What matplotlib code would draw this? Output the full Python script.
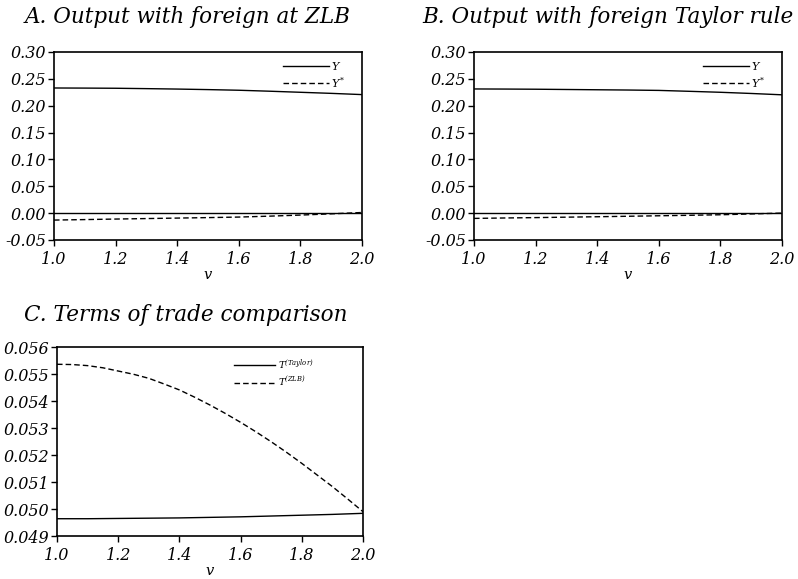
import numpy as np
import matplotlib
matplotlib.use("Agg")
import matplotlib.pyplot as plt

plt.rcParams["font.family"] = "DejaVu Serif"
plt.rcParams["font.style"] = "italic"
plt.rcParams["mathtext.fontset"] = "dejavuserif"

# grid of v values
v = [1.0, 1.1, 1.2, 1.3, 1.4, 1.5, 1.6, 1.7, 1.8, 1.9, 2.0]
v_fine = [1.0, 1.05, 1.1, 1.15, 1.2, 1.25, 1.3, 1.35, 1.4, 1.45, 1.5,
          1.55, 1.6, 1.65, 1.7, 1.75, 1.8, 1.85, 1.9, 1.95, 2.0]

# panel A: foreign at ZLB
y_zlb = [0.2330, 0.2328, 0.2325, 0.2318, 0.2310, 0.2300, 0.2288, 0.2270, 0.2250, 0.2230, 0.2207]
ystar_zlb = [-0.0129, -0.0120, -0.0110, -0.0101, -0.0092, -0.0083, -0.0073, -0.0056, -0.0036, -0.0013, 0.0012]

# panel B: foreign Taylor rule
y_tay = [0.2312, 0.2310, 0.2307, 0.2302, 0.2297, 0.2292, 0.2285, 0.2268, 0.2250, 0.2228, 0.2203]
ystar_tay = [-0.0098, -0.0090, -0.0083, -0.0075, -0.0067, -0.0058, -0.0049, -0.0040, -0.0030, -0.0015, 0.0001]

# panel C: terms of trade
tot_taylor = [0.04964, 0.04964, 0.04965, 0.04966, 0.04967, 0.04969, 0.04971, 0.04974, 0.04977, 0.04980, 0.04984]
tot_zlb = [0.05536, 0.05535, 0.05531, 0.05523, 0.05511, 0.05499, 0.05484, 0.05463, 0.05441, 0.05414, 0.05385,
           0.05354, 0.05321, 0.05286, 0.05249, 0.05210, 0.05169, 0.05126, 0.05083, 0.05037, 0.04990]

xticks = [1.0, 1.2, 1.4, 1.6, 1.8, 2.0]
yticks_out = [-0.05, 0.00, 0.05, 0.10, 0.15, 0.20, 0.25, 0.30]
yticks_tot = [0.049, 0.050, 0.051, 0.052, 0.053, 0.054, 0.055, 0.056]

fig = plt.figure(figsize=(7.98, 5.79), dpi=100)
W, H = 798, 579
DASH = (0, (4, 2.2))


def make_axes(left, top, right, bottom):
    return fig.add_axes([left / W, 1 - bottom / H, (right - left) / W, (bottom - top) / H])


def panel_title(x, y, text):
    fig.text(x / W, 1 - y / H, text, fontsize=15.5, ha="center", va="baseline")


def style(ax, yticks, fmt):
    ax.set_xlim(1.0, 2.0)
    ax.set_ylim(yticks[0], yticks[-1])
    ax.set_xticks(xticks)
    ax.set_xticklabels([f"{t:.1f}" for t in xticks])
    ax.set_yticks(yticks)
    ax.set_yticklabels([fmt.format(t) for t in yticks])
    ax.tick_params(direction="out", length=4, width=1.0, labelsize=11.5)
    ax.tick_params(axis="y", pad=1.5)
    ax.tick_params(axis="x", pad=4)
    for s in ax.spines.values():
        s.set_linewidth(1.2)
    ax.set_xlabel(r"$v$", fontsize=10.5, labelpad=0)


def output_panel(ax, y, ystar):
    ax.axhline(0, color="black", lw=1.0)
    ax.plot(v, y, color="black", lw=1.0, label=r"$Y$")
    ax.plot(v, ystar, color="black", lw=1.0, ls=DASH, label=r"$Y^{*}$")
    style(ax, yticks_out, "{:.2f}")
    ax.legend(loc="upper right", bbox_to_anchor=(0.97, 1.0), frameon=False, fontsize=8,
              handlelength=4.2, handletextpad=0.1, labelspacing=0.25, borderaxespad=0.35)


axA = make_axes(54, 52, 362, 240)
output_panel(axA, y_zlb, ystar_zlb)
panel_title(188, 23, "A. Output with foreign at ZLB")

axB = make_axes(474, 52, 782, 240)
output_panel(axB, y_tay, ystar_tay)
panel_title(608, 23, "B. Output with foreign Taylor rule")

axC = make_axes(57, 347, 363, 536)
axC.plot(v, tot_taylor, color="black", lw=1.0, label=r"$\mathrm{T}^{(\mathrm{Taylor})}$")
axC.plot(v_fine, tot_zlb, color="black", lw=1.0, ls=DASH, label=r"$\mathrm{T}^{(\mathrm{ZLB})}$")
style(axC, yticks_tot, "{:.3f}")
axC.legend(loc="upper right", bbox_to_anchor=(0.87, 1.0), frameon=False, fontsize=7,
           handlelength=4.2, handletextpad=0.3, labelspacing=0.45, borderaxespad=0.6)
panel_title(186, 321, "C. Terms of trade comparison")

fig.savefig("out.png", dpi=100)
